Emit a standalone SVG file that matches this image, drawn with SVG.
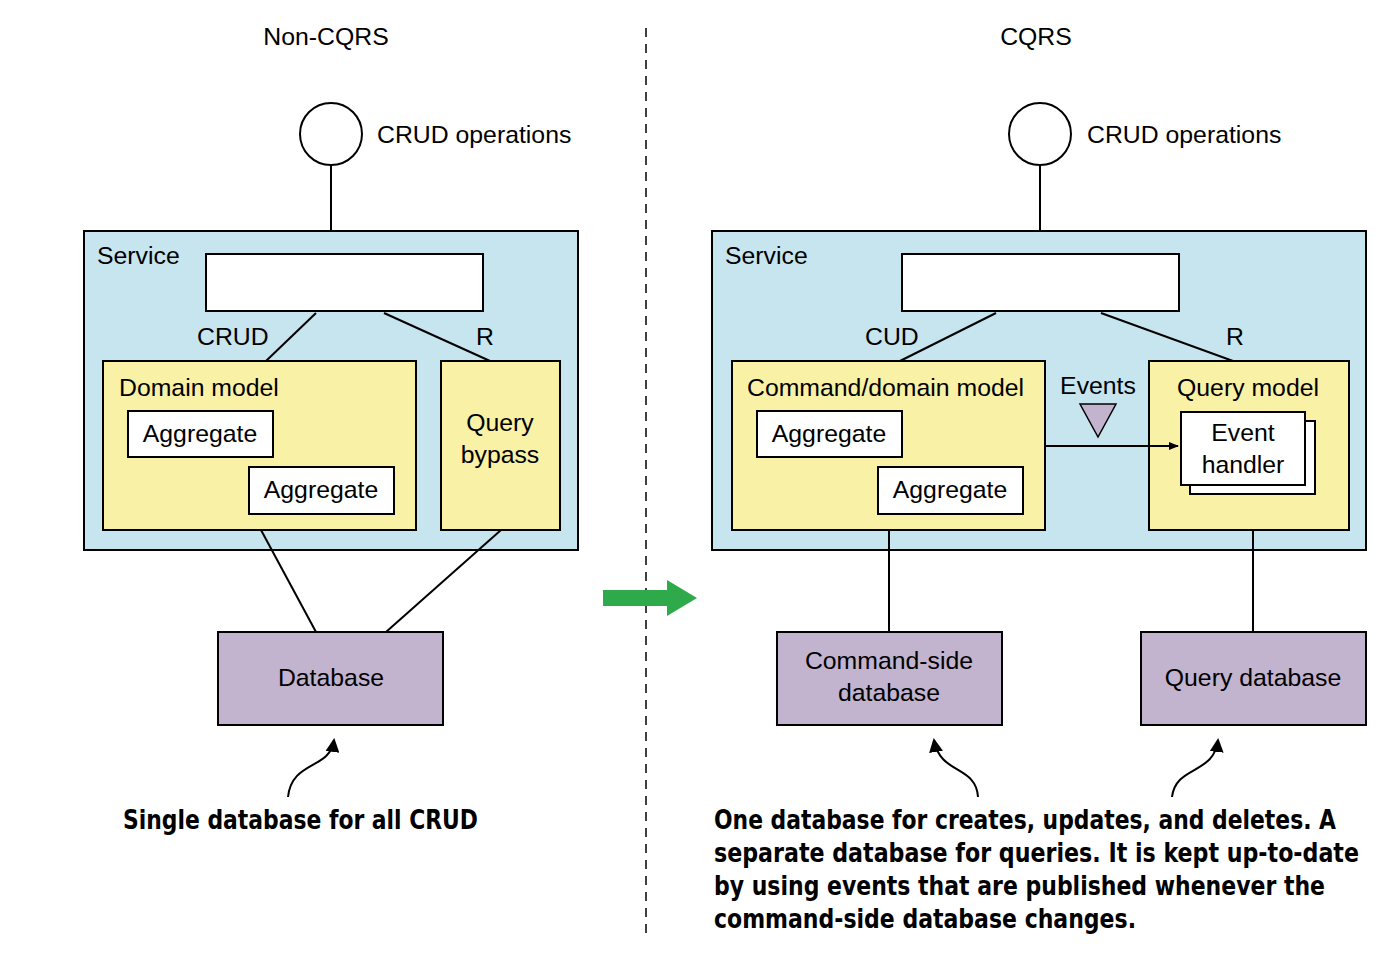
<svg xmlns="http://www.w3.org/2000/svg" width="1400" height="956" viewBox="0 0 1400 956">
<style>
text{font-family:"Liberation Sans",Arial,sans-serif;font-size:24.8px;fill:#000}
.s{fill:#c6e5ef;stroke:#000;stroke-width:2}
.y{fill:#f9f1a5;stroke:#000;stroke-width:2}
.w{fill:#fff;stroke:#000;stroke-width:2}
.p{fill:#c2b3cf;stroke:#000;stroke-width:2}
.l{stroke:#000;stroke-width:2;fill:none}
.c{text-anchor:middle}
.cap{font-family:"DejaVu Sans Condensed","DejaVu Sans",sans-serif;font-weight:bold;font-size:26px}
</style>
<defs>
<marker id="a" markerWidth="10" markerHeight="8" refX="9" refY="4" orient="auto" markerUnits="userSpaceOnUse" viewBox="0 0 10 8"><path d="M0,0L10,4L0,8z" fill="#000"/></marker>
<marker id="b" markerWidth="14" markerHeight="14" refX="12" refY="7" orient="auto" markerUnits="userSpaceOnUse" viewBox="0 0 14 14"><path d="M0,0L14,7L0,14z" fill="#000"/></marker>
</defs>
<text x="326" y="45" class="c">Non-CQRS</text>
<text x="1036" y="45" class="c">CQRS</text>
<line x1="646" y1="28" x2="646" y2="935" stroke="#000" stroke-width="1.5" stroke-dasharray="9,7"/>
<path d="M603,590H667V580L697,598L667,616V606H603z" fill="#2eaa4a"/>

<g id="left-service"><rect x="84" y="231" width="494" height="319" class="s"/><text x="97" y="264">Service</text></g>
<g id="left-ops"><circle cx="331" cy="134" r="31" class="w"/><text x="377" y="143">CRUD operations</text></g>
<g id="left-api"><rect x="206" y="254" width="277" height="57" class="w"/></g>
<g id="domain"><rect x="103" y="361" width="313" height="169" class="y"/><text x="119" y="396">Domain model</text></g>
<g id="agg1"><rect x="128" y="411" width="145" height="46" class="w"/><text x="200" y="442" class="c">Aggregate</text></g>
<g id="agg2"><rect x="249" y="467" width="145" height="47" class="w"/><text x="321" y="498" class="c">Aggregate</text></g>
<g id="bypass"><rect x="441" y="361" width="119" height="169" class="y"/><text x="500" y="431" class="c">Query</text><text x="500" y="463" class="c">bypass</text></g>
<g id="db"><rect x="218" y="632" width="225" height="93" class="p"/><text x="331" y="686" class="c">Database</text></g>

<g id="right-service"><rect x="712" y="231" width="654" height="319" class="s"/><text x="725" y="264">Service</text></g>
<g id="right-ops"><circle cx="1040" cy="134" r="31" class="w"/><text x="1087" y="143">CRUD operations</text></g>
<g id="right-api"><rect x="902" y="254" width="277" height="57" class="w"/></g>
<g id="cmd"><rect x="732" y="361" width="313" height="169" class="y"/><text x="747" y="396">Command/domain model</text></g>
<g id="ragg1"><rect x="757" y="411" width="145" height="46" class="w"/><text x="829" y="442" class="c">Aggregate</text></g>
<g id="ragg2"><rect x="878" y="467" width="145" height="47" class="w"/><text x="950" y="498" class="c">Aggregate</text></g>
<g id="query"><rect x="1149" y="361" width="200" height="169" class="y"/><text x="1248" y="396" class="c">Query model</text></g>
<g id="handler"><rect x="1190" y="421" width="125" height="73" class="w"/><rect x="1181" y="412" width="124" height="73" class="w"/><text x="1243" y="441" class="c">Event</text><text x="1243" y="473" class="c">handler</text></g>
<g id="events"><text x="1098" y="394" class="c">Events</text><path d="M1080,404H1116L1098,437z" fill="#c2b3cf" stroke="#000" stroke-width="1.5"/></g>
<g id="cmddb"><rect x="777" y="632" width="225" height="93" class="p"/><text x="889" y="669" class="c">Command-side</text><text x="889" y="701" class="c">database</text></g>
<g id="qdb"><rect x="1141" y="632" width="225" height="93" class="p"/><text x="1253" y="686" class="c">Query database</text></g>

<g id="connectors">
<line x1="331" y1="165" x2="331" y2="231" class="l"/>
<line x1="316" y1="313" x2="266" y2="361" class="l"/>
<line x1="384" y1="313" x2="490" y2="361" class="l"/>
<line x1="261" y1="530" x2="316" y2="632" class="l"/>
<line x1="501" y1="530" x2="386" y2="632" class="l"/>
<path d="M288,797C292,760 330,770 334,740" class="l" stroke-width="1.5" marker-end="url(#b)"/>
<line x1="1040" y1="165" x2="1040" y2="231" class="l"/>
<line x1="996" y1="313" x2="900" y2="361" class="l"/>
<line x1="1101" y1="313" x2="1233" y2="361" class="l"/>
<line x1="1045" y1="446" x2="1178" y2="446" class="l" stroke-width="1.5" marker-end="url(#a)"/>
<line x1="889" y1="530" x2="889" y2="632" class="l"/>
<line x1="1253" y1="530" x2="1253" y2="632" class="l"/>
<path d="M978,797C976,765 940,775 934,740" class="l" stroke-width="1.5" marker-end="url(#b)"/>
<path d="M1172,797C1176,765 1214,775 1218,740" class="l" stroke-width="1.5" marker-end="url(#b)"/>
</g>
<text x="197" y="345">CRUD</text><text x="476" y="345">R</text>
<text x="865" y="345">CUD</text><text x="1226" y="345">R</text>

<text x="123" y="829" class="cap" textLength="355" lengthAdjust="spacingAndGlyphs">Single database for all CRUD</text>
<text x="714" y="829" class="cap" textLength="622" lengthAdjust="spacingAndGlyphs">One database for creates, updates, and deletes. A</text>
<text x="714" y="862" class="cap" textLength="645" lengthAdjust="spacingAndGlyphs">separate database for queries. It is kept up-to-date</text>
<text x="714" y="895" class="cap" textLength="611" lengthAdjust="spacingAndGlyphs">by using events that are published whenever the</text>
<text x="714" y="928" class="cap" textLength="422" lengthAdjust="spacingAndGlyphs">command-side database changes.</text>
</svg>
